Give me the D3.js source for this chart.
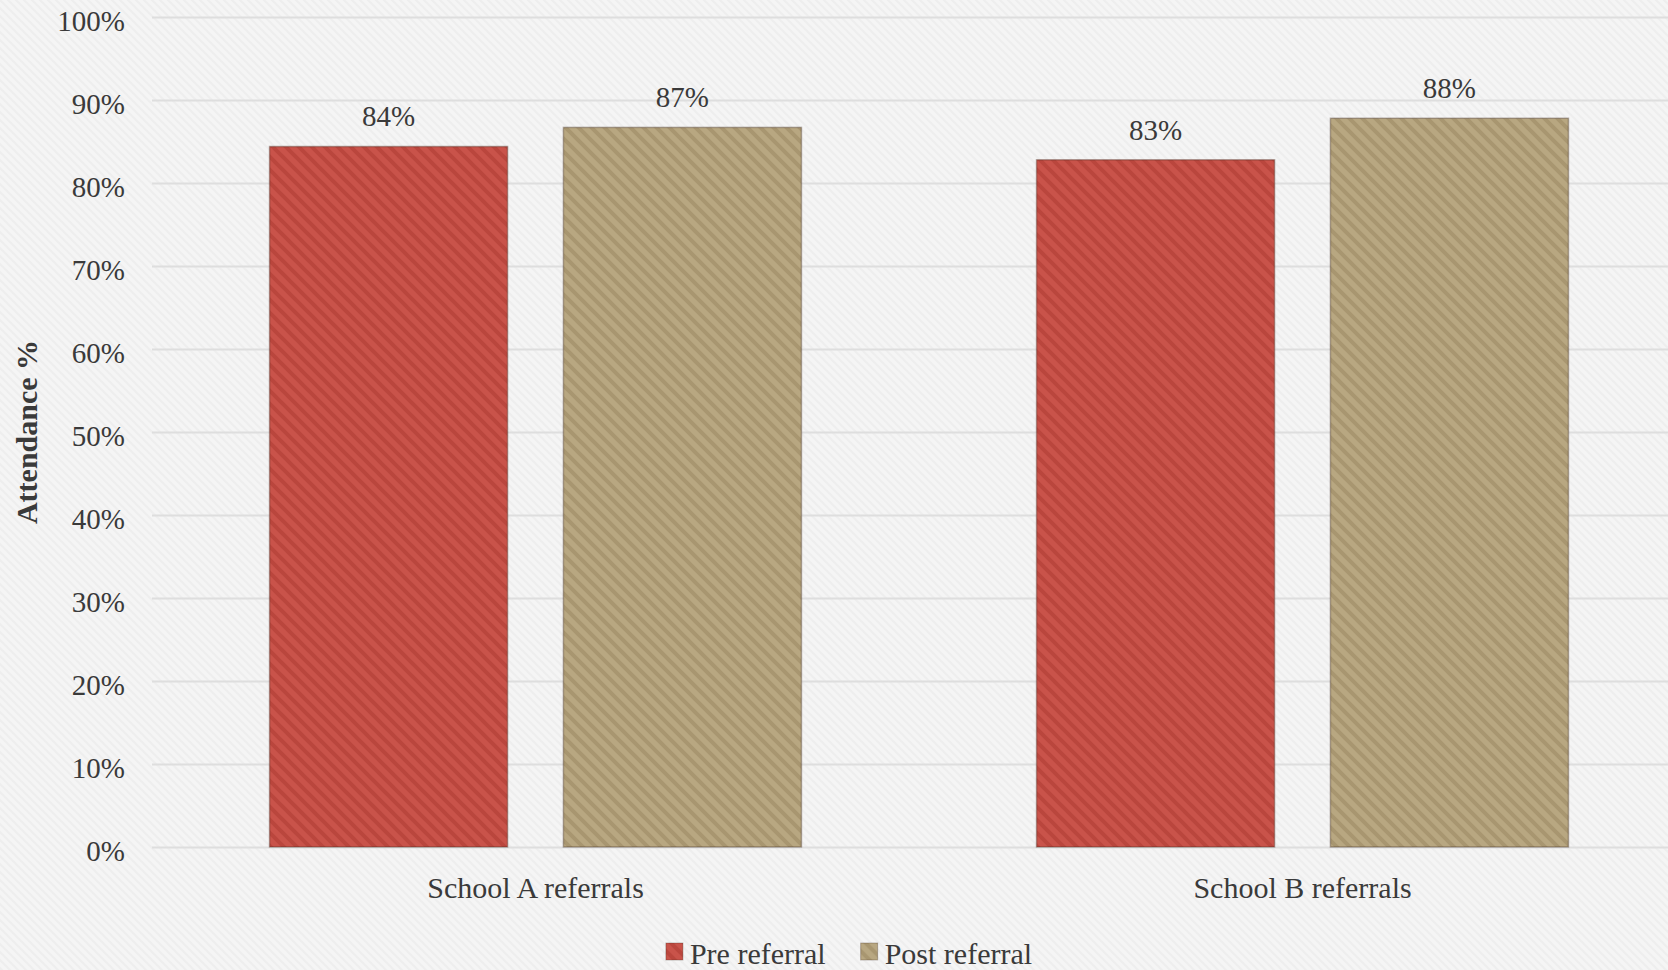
<!DOCTYPE html>
<html>
<head>
<meta charset="utf-8">
<script src="https://cdn.jsdelivr.net/npm/d3@7"></script>
<style>
  html, body { margin: 0; padding: 0; background: #f5f5f5; }
  svg { display: block; }
  text { font-family: "Liberation Serif", "DejaVu Serif", serif; fill: #3a3a3a; }
</style>
</head>
<body>
<svg id="chart" width="1668" height="970"></svg>
<script>
// Attendance before and after referral, by school
const categories = ["School A referrals", "School B referrals"];
const seriesNames = ["Pre referral", "Post referral"];
const preReferral = [0.844, 0.828];
const postReferral = [0.867, 0.878];
const tickValues = [0, 0.1, 0.2, 0.3, 0.4, 0.5, 0.6, 0.7, 0.8, 0.9, 1.0];
const seriesColors = ["#c9534a", "#b8a781"];
const stripeColors = ["#ba463d", "#a89670"];

const rows = categories.map((c, i) => ({
  category: c,
  values: [
    { key: seriesNames[0], value: preReferral[i] },
    { key: seriesNames[1], value: postReferral[i] }
  ]
}));

const width = 1668, height = 970;
const plot = { left: 152, right: 1686, top: 17, bottom: 847 };
const svg = d3.select("#chart");
const defs = svg.append("defs");

// faint diagonal weave on the page background
const bgPat = defs.append("pattern")
  .attr("id", "bg-weave").attr("patternUnits", "userSpaceOnUse")
  .attr("width", 8).attr("height", 8);
bgPat.append("rect").attr("width", 8).attr("height", 8).attr("fill", "#f5f5f5");
bgPat.append("path").attr("d", "M0,0 L8,8 M-4,4 L4,12 M4,-4 L12,4")
  .attr("stroke", "#eeeeee").attr("stroke-width", 2);
svg.append("rect").attr("width", width).attr("height", height).attr("fill", "url(#bg-weave)");

// striped fills for the bars
const blur = defs.append("filter").attr("id", "soft");
blur.append("feGaussianBlur").attr("stdDeviation", 0.8);
seriesNames.forEach((s, i) => {
  const p = defs.append("pattern")
    .attr("id", "stripe-" + i).attr("patternUnits", "userSpaceOnUse")
    .attr("width", 13).attr("height", 13);
  p.append("rect").attr("width", 13).attr("height", 13).attr("fill", seriesColors[i]);
  p.append("path").attr("d", "M0,0 L13,13 M-6.5,6.5 L6.5,19.5 M6.5,-6.5 L19.5,6.5")
    .attr("stroke", stripeColors[i]).attr("stroke-width", 4);
});

const x0 = d3.scaleBand().domain(categories).range([plot.left, plot.right]).padding(0);
const x1 = d3.scaleBand().domain(seriesNames).range([0, x0.bandwidth()])
  .paddingInner(0.19).paddingOuter(0.4);
const y = d3.scaleLinear().domain([0, 1]).range([plot.bottom, plot.top]);

// horizontal gridlines
svg.append("g")
  .attr("transform", `translate(${plot.left},0)`)
  .call(d3.axisLeft(y).tickValues(tickValues).tickSize(-(plot.right - plot.left)).tickFormat(""))
  .call(g => g.select(".domain").remove())
  .call(g => g.selectAll(".tick line").attr("stroke", "#dedede").attr("stroke-width", 2));

// y tick labels
svg.append("g")
  .attr("transform", `translate(${plot.left},0)`)
  .call(d3.axisLeft(y).tickValues(tickValues).tickSize(0).tickPadding(27).tickFormat(d3.format(".0%")))
  .call(g => g.select(".domain").remove())
  .call(g => g.selectAll("text")
    .attr("font-family", "Liberation Serif, serif")
    .attr("font-size", 29).attr("fill", "#3a3a3a").attr("dy", "0.45em"));

// bars
const groups = svg.append("g").selectAll("g").data(rows).join("g")
  .attr("transform", d => `translate(${x0(d.category)},0)`);

groups.selectAll("rect").data(d => d.values).join("rect")
  .attr("x", d => x1(d.key))
  .attr("y", d => y(d.value))
  .attr("width", x1.bandwidth())
  .attr("height", d => y(0) - y(d.value))
  .attr("fill", d => `url(#stripe-${seriesNames.indexOf(d.key)})`)
  .attr("stroke", "rgba(60,40,30,0.35)")
  .attr("stroke-width", 1.5);

// value labels
groups.selectAll("text.value").data(d => d.values).join("text")
  .attr("class", "value")
  .attr("x", d => x1(d.key) + x1.bandwidth() / 2)
  .attr("y", d => y(d.value) - 20)
  .attr("text-anchor", "middle")
  .attr("font-size", 29)
  .text(d => d3.format(".0%")(d.value));

// category axis
svg.append("g")
  .attr("transform", `translate(0,${plot.bottom})`)
  .call(d3.axisBottom(x0).tickSize(0).tickPadding(30))
  .call(g => g.select(".domain").remove())
  .call(g => g.selectAll("text")
    .attr("font-family", "Liberation Serif, serif")
    .attr("font-size", 30).attr("fill", "#3a3a3a"));

// y axis title
svg.append("text")
  .attr("transform", `translate(37,${(plot.top + plot.bottom) / 2}) rotate(-90)`)
  .attr("text-anchor", "middle")
  .attr("font-size", 30)
  .attr("font-weight", "bold")
  .attr("fill", "#2a2a2a")
  .text("Attendance %");

// legend
const legend = svg.append("g").attr("class", "legend");
let cursor = 0;
seriesNames.forEach((s, i) => {
  const item = legend.append("g").attr("transform", `translate(${cursor},0)`);
  item.append("rect").attr("x", 0).attr("y", -21).attr("width", 17).attr("height", 17)
    .attr("fill", `url(#stripe-${i})`).attr("stroke", "rgba(60,40,30,0.3)").attr("stroke-width", 1);
  const t = item.append("text").attr("x", 24).attr("y", 0).attr("font-size", 30).text(s);
  cursor += 24 + t.node().getComputedTextLength() + 35;
});
const legendWidth = cursor - 35;
legend.attr("transform", `translate(${849 - legendWidth / 2},964)`);
</script>
</body>
</html>
